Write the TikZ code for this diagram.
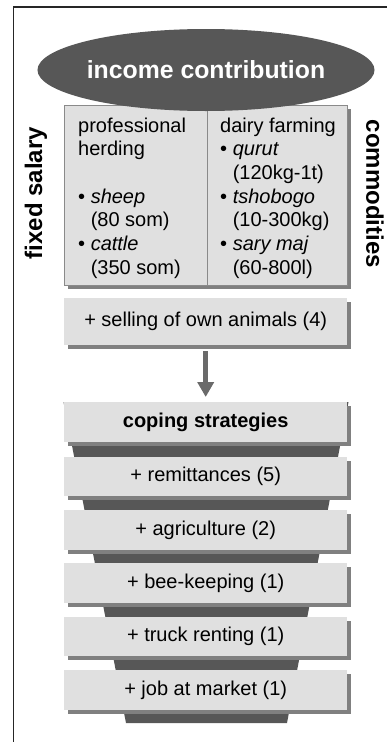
\documentclass[tikz,border=0pt]{standalone}
\usepackage{fontspec}
\setmainfont{Liberation Sans}
\usetikzlibrary{shadows,arrows.meta,shapes.geometric,calc}
\definecolor{boxfill}{HTML}{E0E0E0}
\definecolor{shadowgray}{HTML}{808080}
\definecolor{darkfill}{HTML}{575757}
\definecolor{arrowgray}{HTML}{6A6A6A}
\definecolor{boxline}{HTML}{8A8A8A}
\newcommand\bitem[1]{\textbullet\ #1}
\newcommand\bcont[1]{\hphantom{\textbullet\ }#1}
\begin{document}
\begin{tikzpicture}[x=1pt,y=-1pt,
  txt/.style={font=\fontsize{20}{23.7}\selectfont},
  graybox/.style={rectangle, fill=boxfill, inner sep=0pt, minimum width=283pt,
    minimum height=39.5pt, anchor=north west,
    drop shadow={shadow xshift=4pt, shadow yshift=-4pt, fill=shadowgray, opacity=1}, txt},
  coltext/.style={anchor=north west, inner sep=0pt, align=left, txt},
  sidelabel/.style={font=\bfseries\fontsize{24}{28}\selectfont}]
\useasboundingbox (0,0) rectangle (387,742);
% frame
\draw[line width=1.2pt, black!85] (13.5,742) -- (13.5,7) -- (387,7);
% side labels
\node[sidelabel, rotate=90] (fs) at (36,193) {fixed salary};
\node[sidelabel, rotate=-90] (cm) at (375,194) {commodities};
% upper box
\node[graybox, draw=boxline, line width=0.8pt, minimum height=180pt] (upper) at (64,105) {};
\draw[boxline, line width=0.8pt] ($(upper.north)+(1.5,0)$) -- ($(upper.south)+(1.5,0)$);
\node[coltext] (lc) at (78,117.4) {professional\\herding\\\mbox{}\\\bitem{\textit{sheep}}\\\bcont{(80 som)}\\\bitem{\textit{cattle}}\\\bcont{(350 som)}};
\node[coltext] (rc) at (220,117.4) {dairy farming\\\bitem{\textit{qurut}}\\\bcont{(120kg-1t)}\\\bitem{\textit{tshobogo}}\\\bcont{(10-300kg)}\\\bitem{\textit{sary maj}}\\\bcont{(60-800l)}};
% ellipse
\node[ellipse, fill=darkfill, minimum width=284pt, minimum height=82pt, inner sep=0pt,
  text=white, font=\bfseries\fontsize{24.8}{28}\selectfont] (ic) at (206,70) {income contribution};
% selling
\node[graybox, minimum height=47pt] (sell) at (64,298) {+ selling of own animals (4)};
% funnel
\fill[darkfill] (63.5,402) -- (348.5,402) -- (287,723) -- (126,723) -- cycle;
% coping boxes
\node[graybox] (cs0) at (64,402) {\textbf{coping strategies}};
\node[graybox] (cs1) at (64,456.5) {+ remittances (5)};
\node[graybox] (cs2) at (64,510) {+ agriculture (2)};
\node[graybox] (cs3) at (64,563) {+ bee-keeping (1)};
\node[graybox] (cs4) at (64,616.5) {+ truck renting (1)};
\node[graybox] (cs5) at (64,670) {+ job at market (1)};
% arrow
\draw[arrowgray, line width=5pt, -{Triangle[width=16pt,length=15pt]}]
  ([yshift=-6pt]sell.south) -- ([yshift=5pt]cs0.north);
\end{tikzpicture}
\end{document}
